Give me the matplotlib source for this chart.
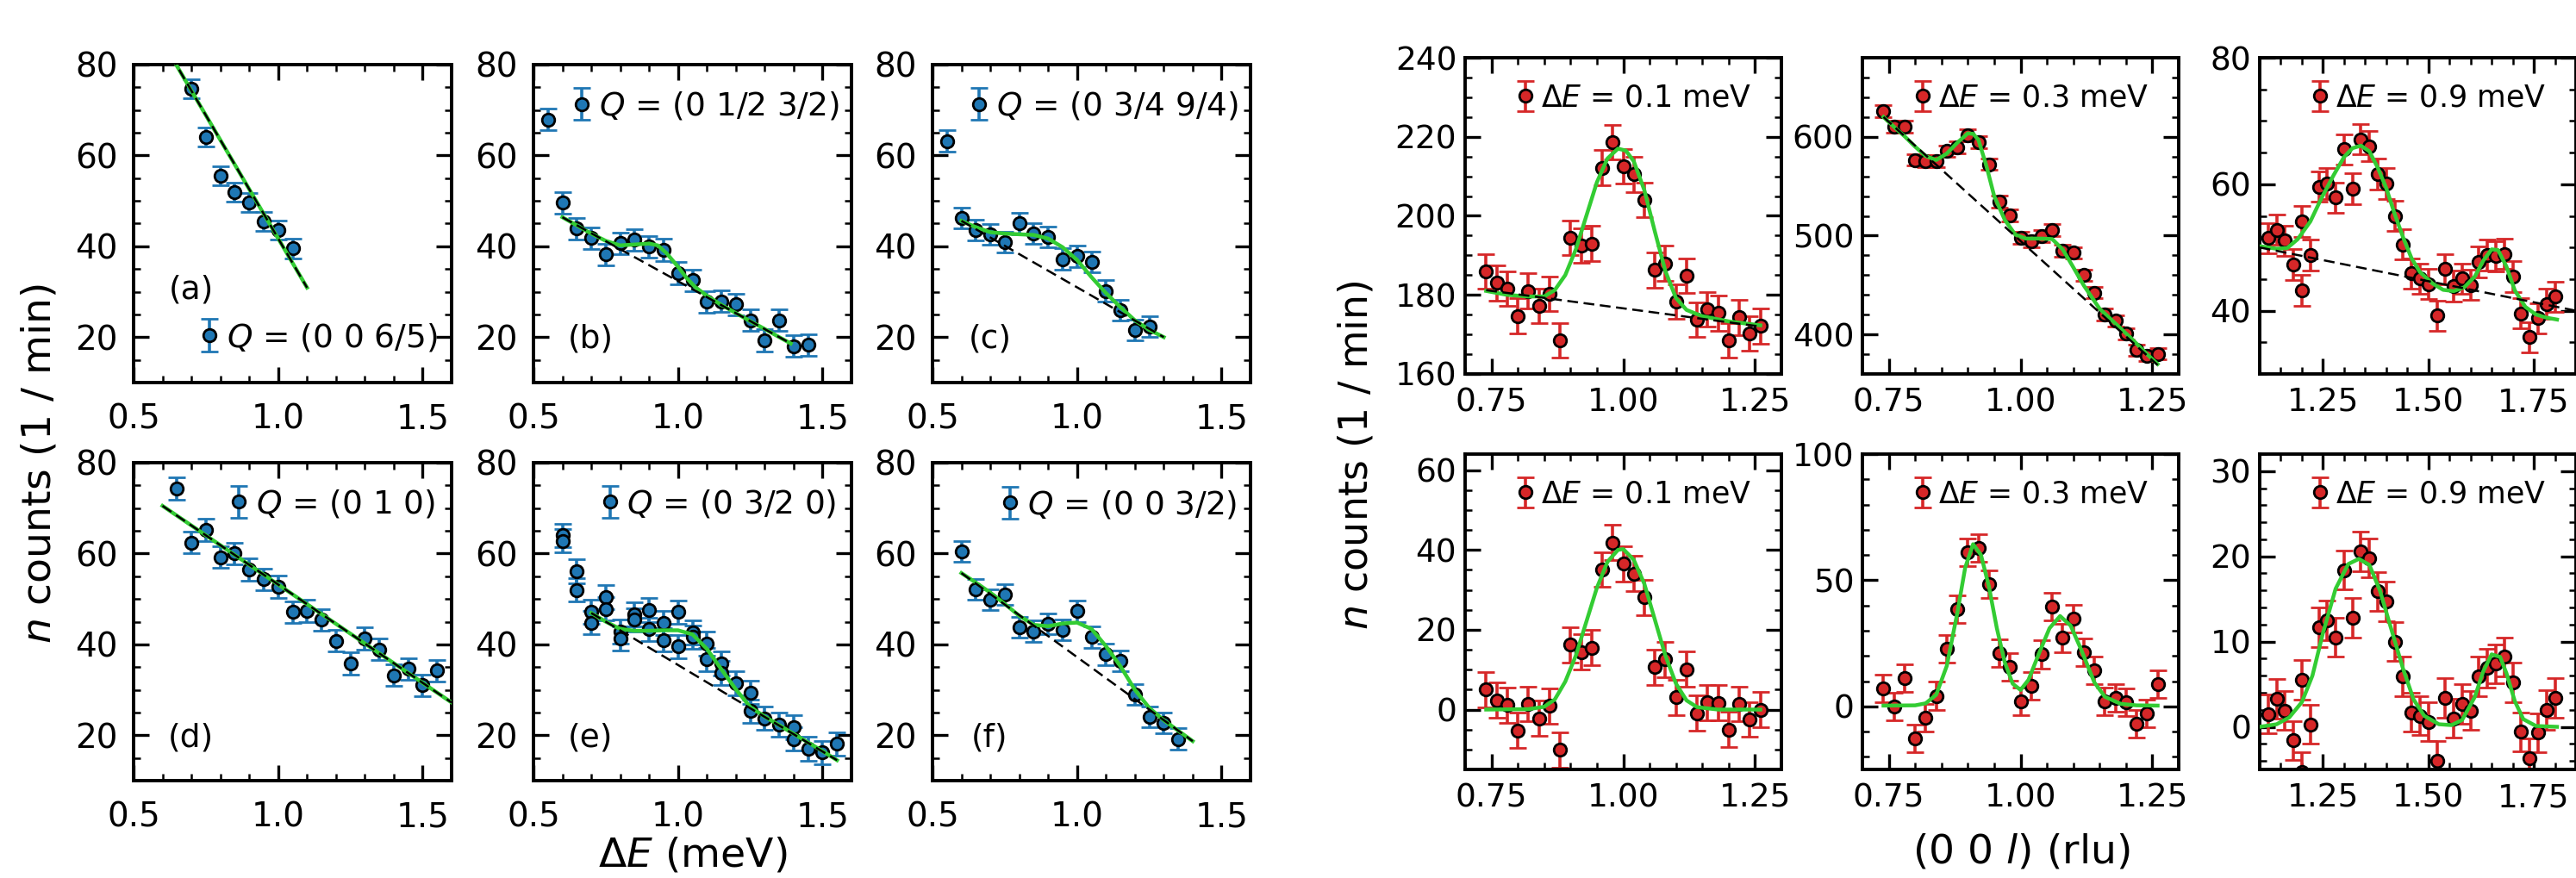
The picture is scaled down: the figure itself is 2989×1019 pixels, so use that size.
import matplotlib
matplotlib.use('Agg')
import matplotlib.pyplot as plt
from matplotlib.ticker import MultipleLocator, FormatStrFormatter

BLUE = '#1f77b4'
RED = '#d62728'
GREEN = '#33cc33'

# ---------------- left block: energy scans ----------------
a_x = [0.70, 0.75, 0.80, 0.85, 0.90, 0.95, 1.00, 1.05]
a_y = [74.7, 64.1, 55.5, 52.0, 49.6, 45.5, 43.6, 39.5]
a_err = 2.1
a_bg_x = [0.60, 1.10]
a_bg_y = [85.1, 30.9]

b_x = [0.55, 0.60, 0.65, 0.70, 0.75, 0.80, 0.85, 0.90, 0.95, 1.00,
       1.05, 1.10, 1.15, 1.20, 1.25, 1.30, 1.35, 1.40, 1.45]
b_y = [67.9, 49.6, 43.9, 41.8, 38.2, 40.7, 41.4, 39.9, 39.2, 34.1,
       32.5, 27.8, 27.9, 27.2, 23.7, 19.3, 23.7, 18.0, 18.3]
b_err = 2.4
b_fit_x = [0.60, 0.65, 0.70, 0.75, 0.80, 0.85, 0.90, 0.93, 0.96, 1.00,
           1.03, 1.06, 1.10, 1.15, 1.20, 1.25, 1.30, 1.35, 1.39]
b_fit_y = [46.4, 44.6, 42.8, 41.2, 40.2, 40.4, 40.6, 40.2, 38.5, 35.5,
           33.0, 31.0, 29.1, 27.1, 25.3, 23.5, 21.8, 20.0, 18.6]
b_bg_x = [0.60, 1.39]
b_bg_y = [46.4, 18.6]

c_x = [0.55, 0.60, 0.65, 0.70, 0.75, 0.80, 0.85, 0.90, 0.95, 1.00,
       1.05, 1.10, 1.15, 1.20, 1.25]
c_y = [63.2, 46.2, 43.6, 42.6, 40.9, 45.0, 42.8, 42.0, 37.2, 37.8,
       36.5, 30.2, 25.9, 21.6, 22.3]
c_err = 2.3
c_fit_x = [0.60, 0.65, 0.70, 0.75, 0.80, 0.85, 0.90, 0.95, 1.00, 1.05,
           1.10, 1.15, 1.20, 1.25, 1.30]
c_fit_y = [45.6, 44.2, 43.1, 42.8, 42.65, 42.5, 41.7, 39.8, 37.0, 33.2,
           29.7, 26.6, 23.7, 21.6, 20.0]
c_bg_x = [0.60, 1.30]
c_bg_y = [45.6, 20.0]

d_x = [0.65, 0.70, 0.75, 0.80, 0.85, 0.90, 0.95, 1.00, 1.05, 1.10,
       1.15, 1.20, 1.25, 1.30, 1.35, 1.40, 1.45, 1.50, 1.55]
d_y = [74.3, 62.4, 65.2, 59.2, 60.0, 56.5, 54.3, 52.7, 47.1, 47.4,
       45.4, 40.8, 35.8, 41.3, 38.9, 33.2, 34.6, 31.0, 34.2]
d_err = 2.4
d_bg_x = [0.60, 1.60]
d_bg_y = [70.5, 27.2]

e_x = [0.60, 0.60, 0.65, 0.65, 0.70, 0.70, 0.75, 0.75, 0.80, 0.80,
       0.85, 0.85, 0.90, 0.90, 0.95, 0.95, 1.00, 1.00, 1.05, 1.05,
       1.10, 1.10, 1.15, 1.15, 1.20, 1.25, 1.25, 1.30, 1.35, 1.40,
       1.40, 1.45, 1.50, 1.55]
e_y = [64.0, 62.8, 56.1, 52.0, 47.2, 44.8, 50.4, 47.8, 42.8, 41.3,
       46.6, 45.4, 47.6, 43.3, 44.7, 41.0, 47.1, 39.5, 42.6, 41.6,
       40.2, 36.7, 35.8, 33.7, 31.4, 29.4, 25.3, 23.7, 22.3, 21.8,
       19.2, 17.0, 16.2, 18.1]
e_err = 2.6
e_fit_x = [0.70, 0.75, 0.80, 0.85, 0.90, 0.95, 1.00, 1.05, 1.10, 1.15,
           1.20, 1.25, 1.30, 1.35, 1.40, 1.45, 1.50, 1.55]
e_fit_y = [46.9, 45.0, 43.4, 43.0, 43.0, 43.1, 43.1, 42.2, 39.0, 34.5,
           30.1, 26.2, 24.1, 22.2, 20.3, 18.4, 16.5, 14.5]
e_bg_x = [0.70, 1.55]
e_bg_y = [46.9, 14.5]

f_x = [0.60, 0.65, 0.70, 0.75, 0.80, 0.85, 0.90, 0.95, 1.00, 1.05,
       1.10, 1.15, 1.20, 1.25, 1.30, 1.35]
f_y = [60.5, 52.1, 49.8, 51.0, 43.7, 42.9, 44.5, 43.2, 47.3, 41.6,
       37.8, 36.3, 28.9, 24.0, 22.7, 19.2]
f_err = 2.3
f_fit_x = [0.60, 0.65, 0.70, 0.75, 0.80, 0.85, 0.90, 0.95, 1.00, 1.05,
           1.10, 1.15, 1.20, 1.25, 1.30, 1.35, 1.40]
f_fit_y = [55.7, 53.6, 51.4, 48.9, 46.3, 44.3, 44.0, 44.6, 44.8, 43.4,
           39.6, 35.2, 30.0, 26.0, 23.3, 21.0, 18.7]
f_bg_x = [0.60, 1.40]
f_bg_y = [55.7, 18.7]

# ---------------- right block: (0 0 l) scans ----------------
l_x = [0.74, 0.76, 0.78, 0.80, 0.82, 0.84, 0.86, 0.88, 0.90, 0.92,
       0.94, 0.96, 0.98, 1.00, 1.02, 1.04, 1.06, 1.08, 1.10, 1.12,
       1.14, 1.16, 1.18, 1.20, 1.22, 1.24, 1.26]

r1_y = [185.9, 183.0, 181.6, 174.7, 181.0, 177.2, 180.3, 168.5, 194.5, 192.5,
        193.0, 212.2, 218.6, 212.6, 210.5, 204.1, 186.3, 188.0, 178.3, 184.8,
        173.7, 176.4, 175.4, 168.5, 174.3, 170.2, 172.1]
r1_err = 4.4
r1_fit_x = [0.74, 0.78, 0.82, 0.85, 0.87, 0.89, 0.91, 0.93, 0.95, 0.97,
            0.99, 1.005, 1.02, 1.04, 1.06, 1.08, 1.10, 1.12, 1.15, 1.20, 1.26]
r1_fit_y = [181.0, 180.0, 179.6, 179.6, 181.2, 185.0, 191.5, 200.0, 208.5, 214.5,
            217.0, 216.5, 213.8, 206.5, 196.0, 186.0, 179.2, 176.2, 174.6, 173.3, 172.3]
r1_bg_x = [0.74, 1.26]
r1_bg_y = [181.2, 172.0]

r2_y = [625.7, 610.2, 610.2, 576.6, 575.2, 575.2, 585.4, 589.0, 601.5, 594.7,
        572.3, 534.3, 520.6, 497.8, 494.3, 499.3, 505.7, 484.7, 482.6, 459.9,
        442.3, 420.4, 413.7, 400.6, 384.0, 378.7, 380.4]
r2_err = 6.0
r2_fit_x = [0.74, 0.76, 0.78, 0.80, 0.82, 0.84, 0.86, 0.88, 0.90, 0.91,
            0.92, 0.935, 0.95, 0.97, 0.99, 1.01, 1.04, 1.06, 1.08, 1.10,
            1.12, 1.15, 1.18, 1.21, 1.24, 1.26]
r2_fit_y = [620.0, 610.0, 600.5, 590.0, 580.5, 576.5, 583.0, 594.0, 603.5, 603.0,
            597.0, 571.0, 540.0, 516.0, 501.0, 497.0, 497.0, 496.5, 486.0, 468.0,
            449.5, 426.0, 411.0, 396.0, 380.0, 370.0]
r2_bg_x = [0.74, 1.26]
r2_bg_y = [620.0, 369.0]

h_x = [1.12, 1.14, 1.16, 1.18, 1.20, 1.20, 1.22, 1.24, 1.26, 1.28,
       1.30, 1.32, 1.34, 1.36, 1.38, 1.40, 1.42, 1.44, 1.46, 1.48,
       1.50, 1.52, 1.54, 1.56, 1.58, 1.60, 1.62, 1.64, 1.66, 1.68,
       1.70, 1.72, 1.74, 1.76, 1.78, 1.80]

r3_y = [51.5, 52.8, 51.1, 47.3, 54.1, 43.2, 48.8, 59.6, 60.1, 57.9,
        65.5, 59.3, 67.1, 66.0, 61.6, 60.1, 55.0, 50.5, 45.9, 45.1,
        44.2, 39.2, 46.6, 43.9, 45.1, 44.1, 47.7, 48.8, 48.6, 49.0,
        45.4, 39.6, 35.8, 38.8, 41.1, 42.2]
r3_err = 2.4
r3_fit_x = [1.10, 1.14, 1.165, 1.19, 1.22, 1.245, 1.275, 1.30, 1.32, 1.34,
            1.36, 1.38, 1.40, 1.42, 1.44, 1.46, 1.48, 1.51, 1.535, 1.56,
            1.585, 1.61, 1.63, 1.65, 1.665, 1.685, 1.705, 1.73, 1.755, 1.78, 1.805]
r3_fit_y = [50.2, 49.8, 49.9, 51.3, 54.1, 57.6, 61.4, 64.3, 65.7, 66.1,
            65.2, 62.6, 59.4, 55.3, 51.6, 48.3, 46.1, 44.3, 43.3, 43.1,
            43.7, 45.4, 47.9, 49.7, 49.6, 47.0, 43.2, 40.6, 39.4, 38.9, 38.6]
r3_bg_x = [1.10, 1.85]
r3_bg_y = [50.0, 40.0]

r4_y = [5.0, 2.3, 1.1, -5.2, 1.4, -2.2, 0.9, -10.1, 16.2, 14.4,
        15.5, 35.1, 41.8, 36.5, 34.1, 28.1, 10.6, 12.6, 3.1, 10.1,
        -0.9, 1.8, 1.7, -5.0, 1.4, -2.5, 0.0]
r4_err = 4.4
r4_fit_x = [0.74, 0.82, 0.85, 0.87, 0.89, 0.91, 0.93, 0.95, 0.97, 0.99,
            1.00, 1.02, 1.04, 1.06, 1.08, 1.10, 1.12, 1.14, 1.18, 1.26]
r4_fit_y = [0.0, 0.1, 0.7, 2.5, 7.0, 13.5, 22.0, 30.5, 37.0, 40.0,
            40.2, 37.5, 31.5, 22.5, 13.5, 6.5, 2.3, 0.6, 0.0, 0.0]

r5_y = [7.2, 0.0, 11.1, -12.6, -4.6, 4.2, 22.9, 38.6, 61.2, 62.9,
        48.4, 21.2, 15.7, 1.9, 8.0, 20.6, 39.5, 27.1, 34.9, 21.4,
        14.3, 1.9, 3.4, 1.7, -6.9, -2.9, 8.8]
r5_err = 5.5
r5_fit_x = [0.74, 0.80, 0.82, 0.84, 0.86, 0.88, 0.895, 0.91, 0.925, 0.94,
            0.955, 0.97, 0.985, 1.00, 1.015, 1.035, 1.055, 1.075, 1.095, 1.115,
            1.14, 1.16, 1.19, 1.22, 1.26]
r5_fit_y = [0.3, 0.4, 1.2, 4.6, 16.0, 37.0, 55.0, 64.3, 60.0, 47.5,
            31.0, 17.5, 9.0, 6.5, 10.5, 21.0, 31.0, 35.8, 32.0, 22.5,
            9.5, 3.8, 1.0, 0.4, 0.3]

r6_y = [1.5, 3.3, 1.9, -1.6, 5.5, -5.3, 0.3, 11.7, 12.5, 10.5,
        18.4, 12.8, 20.6, 19.8, 15.9, 14.7, 10.0, 5.9, 1.7, 1.3,
        0.6, -4.0, 3.4, 1.0, 2.7, 1.9, 5.9, 6.9, 7.4, 8.2,
        5.2, -0.6, -3.7, -0.7, 2.0, 3.4]
r6_err = 2.3
r6_fit_x = [1.10, 1.14, 1.17, 1.20, 1.225, 1.25, 1.28, 1.31, 1.335, 1.36,
            1.385, 1.41, 1.44, 1.465, 1.49, 1.525, 1.555, 1.58, 1.61, 1.63,
            1.65, 1.67, 1.685, 1.705, 1.725, 1.755, 1.805]
r6_fit_y = [0.0, 0.3, 1.1, 2.9, 6.0, 11.0, 16.2, 19.1, 19.7, 19.0,
            16.0, 11.8, 6.8, 3.2, 1.3, 0.3, 0.2, 0.8, 3.5, 6.5,
            8.5, 8.2, 6.3, 3.0, 0.9, 0.1, 0.0]

# ---------------- figure ----------------
W, H = 2989, 1019
fig = plt.figure(figsize=(W / 100, H / 100), dpi=100)


def add_ax(left, top, w, h):
    return fig.add_axes([left / W, 1 - (top + h) / H, w / W, h / H])


def style(ax, xlim, ylim, xmaj, xmin, ymaj, ymin, xfmt, xpad, ypad, size):
    ax.set_xlim(*xlim)
    ax.set_ylim(*ylim)
    ax.xaxis.set_major_locator(MultipleLocator(xmaj))
    ax.xaxis.set_minor_locator(MultipleLocator(xmin))
    ax.yaxis.set_major_locator(MultipleLocator(ymaj))
    ax.yaxis.set_minor_locator(MultipleLocator(ymin))
    ax.xaxis.set_major_formatter(FormatStrFormatter(xfmt))
    ax.tick_params(which='both', direction='in', top=True, right=True)
    ax.tick_params(which='major', length=13, width=2.4, labelsize=size)
    ax.tick_params(which='minor', length=6, width=1.8)
    ax.tick_params(axis='x', which='major', pad=xpad)
    ax.tick_params(axis='y', which='major', pad=ypad)
    for sp in ax.spines.values():
        sp.set_linewidth(2.8)


def points(ax, x, y, err, color, label):
    cont = ax.errorbar(x, y, yerr=err, fmt='o', color=color, mec='k', mew=2.0,
                       ms=10.5, ecolor=color, elinewidth=2.6, capsize=7,
                       capthick=3.0, zorder=2, label=label)
    for cap in cont[1]:
        cap.set_color('k')


def fit(ax, gx, gy, bx, by):
    if gx is not None:
        ax.plot(gx, gy, color=GREEN, lw=3.2, zorder=3, solid_joinstyle='round')
    ax.plot(bx, by, color='k', lw=1.8, ls=(0, (5, 2.6)), zorder=4)


def legend_at(ax, xc, yc, fs, w_px):
    off = 0.25 * fs * 100 / 72 / w_px
    ax.legend(loc='center left', bbox_to_anchor=(xc - off, yc), frameon=False,
              fontsize=fs, handlelength=0.5, handletextpad=0.28, borderpad=0,
              borderaxespad=0)


left_cols = [155, 619, 1082]
left_rows = [75, 537]
LW = 369

left_panels = [
    (a_x, a_y, a_err, a_bg_x, a_bg_y, a_bg_x, a_bg_y, '$Q$ = (0 0 6/5)', (0.238, 0.142), '(a)', 0.29),
    (b_x, b_y, b_err, b_fit_x, b_fit_y, b_bg_x, b_bg_y, '$Q$ = (0 1/2 3/2)', (0.151, 0.869), '(b)', 0.137),
    (c_x, c_y, c_err, c_fit_x, c_fit_y, c_bg_x, c_bg_y, '$Q$ = (0 3/4 9/4)', (0.147, 0.869), '(c)', 0.137),
    (d_x, d_y, d_err, d_bg_x, d_bg_y, d_bg_x, d_bg_y, '$Q$ = (0 1 0)', (0.33, 0.87), '(d)', 0.135),
    (e_x, e_y, e_err, e_fit_x, e_fit_y, e_bg_x, e_bg_y, '$Q$ = (0 3/2 0)', (0.24, 0.87), '(e)', 0.135),
    (f_x, f_y, f_err, f_fit_x, f_fit_y, f_bg_x, f_bg_y, '$Q$ = (0 0 3/2)', (0.243, 0.867), '(f)', 0.135),
]

for i, (x, y, err, gx, gy, bx, by, lab, lpos, tag, ty) in enumerate(left_panels):
    ax = add_ax(left_cols[i % 3], left_rows[i // 3], LW, LW)
    style(ax, (0.5, 1.6), (10, 80), 0.5, 0.1, 20, 5, '%.1f', 17, 13, 28)
    points(ax, x, y, err, BLUE, lab)
    fit(ax, gx, gy, bx, by)
    legend_at(ax, lpos[0], lpos[1], 27, LW)
    ax.text(0.18, ty, tag, transform=ax.transAxes, ha='center', va='center',
            fontsize=27)

right_cols = [1700, 2161, 2622]
right_rows = [67, 527]
RW = 367

right_panels = [
    (l_x, r1_y, r1_err, r1_fit_x, r1_fit_y, r1_bg_x, r1_bg_y, '0.1',
     (0.7, 1.3), (160, 240), 0.25, 20, 5, '%.2f'),
    (l_x, r2_y, r2_err, r2_fit_x, r2_fit_y, r2_bg_x, r2_bg_y, '0.3',
     (0.7, 1.3), (360, 680), 0.25, 100, 20, '%.2f'),
    (h_x, r3_y, r3_err, r3_fit_x, r3_fit_y, r3_bg_x, r3_bg_y, '0.9',
     (1.1, 1.85), (30, 80), 0.25, 20, 5, '%.2f'),
    (l_x, r4_y, r4_err, r4_fit_x, r4_fit_y, None, None, '0.1',
     (0.7, 1.3), (-15, 64), 0.25, 20, 5, '%.2f'),
    (l_x, r5_y, r5_err, r5_fit_x, r5_fit_y, None, None, '0.3',
     (0.7, 1.3), (-25, 100), 0.25, 50, 10, '%.2f'),
    (h_x, r6_y, r6_err, r6_fit_x, r6_fit_y, None, None, '0.9',
     (1.1, 1.85), (-5, 32), 0.25, 10, 2, '%.2f'),
]

for i, (x, y, err, gx, gy, bx, by, de, xl, yl, xmaj, ymaj, ymin, fmt) in enumerate(right_panels):
    ax = add_ax(right_cols[i % 3], right_rows[i // 3], RW, RW - (i // 3))
    style(ax, xl, yl, xmaj, 0.05, ymaj, ymin, fmt, 11, 7, 27)
    points(ax, x, y, err, RED, r'$\Delta E$ = ' + de + ' meV')
    ax.plot(gx, gy, color=GREEN, lw=3.2, zorder=3, solid_joinstyle='round')
    if bx is not None:
        ax.plot(bx, by, color='k', lw=1.8, ls=(0, (5, 2.6)), zorder=4)
    legend_at(ax, 0.19, 0.873, 25, RW)

# axis labels
fig.text(46 / W, 1 - 538 / H, '$n$ counts (1 / min)', rotation=90,
         ha='center', va='center', fontsize=34)
fig.text(1574 / W, 1 - 528 / H, '$n$ counts (1 / min)', rotation=90,
         ha='center', va='center', fontsize=33)
fig.text(804 / W, 1 - 1006 / H, r'$\Delta E$ (meV)', ha='center',
         va='baseline', fontsize=34)
fig.text(2345 / W, 1 - 1001 / H, '(0 0 $l$) (rlu)', ha='center',
         va='baseline', fontsize=34)

fig.savefig('out.png', dpi=100)
